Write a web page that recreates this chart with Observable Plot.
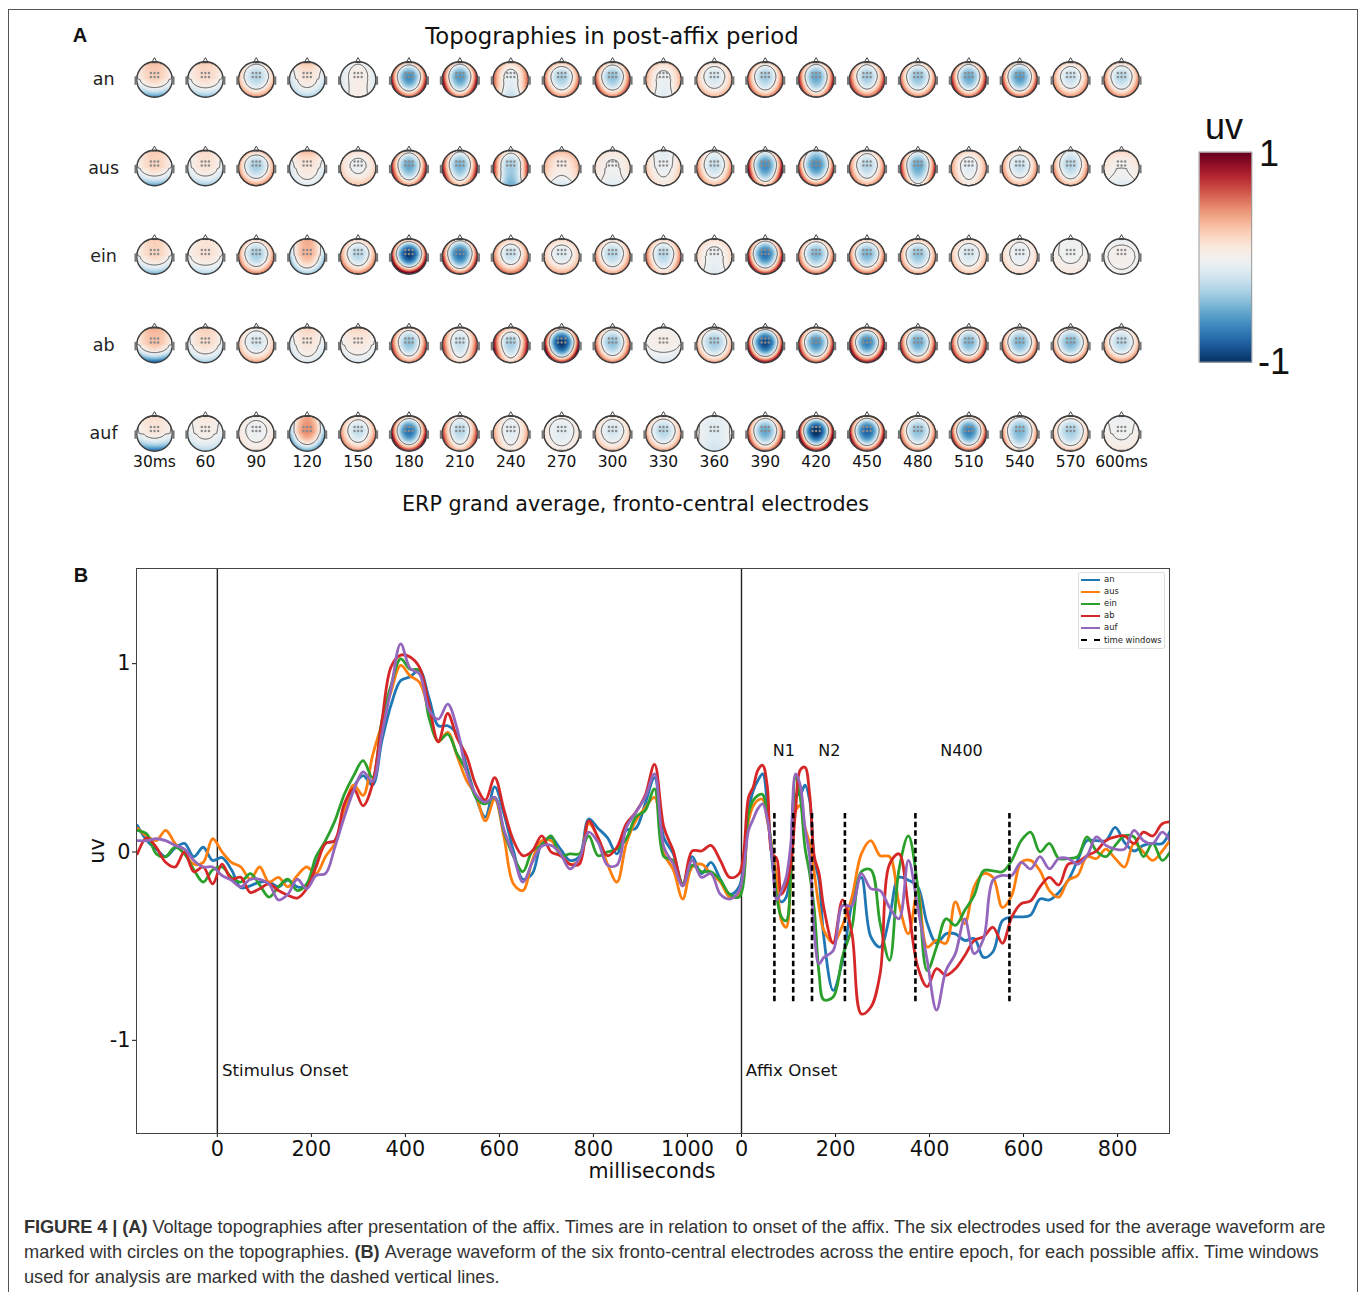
<!DOCTYPE html>
<html><head><meta charset="utf-8">
<script src="https://cdn.jsdelivr.net/npm/d3@7"></script>
<script src="https://cdn.jsdelivr.net/npm/@observablehq/plot@0.6"></script>
<style>
html,body{margin:0;padding:0;background:#fff}
#page{position:relative;width:1358px;height:1292px;overflow:hidden;font-family:"DejaVu Sans",sans-serif;color:#111}
#page svg{position:absolute;background:none}
.t{position:absolute;white-space:nowrap;line-height:1}
.c{transform:translate(-50%,-50%)}
#border{position:absolute;left:8px;top:9px;right:0;bottom:-5px;border:1px solid #555}
#legend{position:absolute;left:1078px;top:572px;width:85px;height:75px;border:1px solid #ddd;border-radius:2px;background:#fff;box-sizing:content-box}
.caption{position:absolute;left:24px;font-family:"Liberation Sans",Arial,sans-serif;font-size:18.2px;color:#333;white-space:nowrap;line-height:1}
</style></head>
<body><div id="page"><div id="border"></div></div>
<script>
// ---------- Panel B: grand-average waveforms (uV) ----------
const times = [...d3.range(-170,1111,20), ...d3.range(1130,1291,10), ...d3.range(1310,2031,20)];
const an = [.135,.055,.01,-.03,.015,.04,-.03,.02,-.05,-.035,-.10,-.195,-.185,-.165,-.165,-.19,-.155,-.19,-.185,-.07,.04,.055,.20,.34,.40,.35,.585,.78,.905,.925,.96,.815,.665,.665,.62,
.45,.285,.18,.34,.195,0,-.15,-.12,.04,.07,.01,-.05,-.03,.17,.12,.07,-.015,.11,.12,.25,.39,.07,-.015,-.175,-.03,-.12,-.06,-.15,-.23,-.19,
.215,.32,.375,.41,.25,-.05,-.23,-.27,-.245,-.07,.30,.30,.35,.27,-.05,-.155,-.455,
-.74,-.58,-.28,-.14,-.455,-.51,-.35,-.14,-.155,-.19,-.385,-.49,-.44,
-.44,-.475,-.465,-.565,-.535,-.37,-.35,-.35,-.34,-.255,-.26,-.22,-.155,-.05,.055,.055,.055,.125,.045,0,.03,.04,.04,.125];
const aus = [.12,.08,.055,.11,.04,-.015,-.07,-.06,.065,-.005,-.06,-.085,-.15,-.085,-.165,-.14,-.19,-.13,-.085,-.12,-.03,.04,.215,.35,.295,.505,.675,.85,.985,.93,.895,.745,.58,.63,.505,
.375,.295,.16,.275,.07,-.175,-.21,-.05,.055,.055,-.015,-.07,-.05,.145,.07,-.07,-.165,.04,.16,.23,.285,-.015,-.10,-.255,-.085,-.07,-.12,-.165,-.245,-.23,
.16,.24,.27,.275,.16,.02,-.14,-.37,-.405,-.155,.215,.24,.125,.04,-.12,-.30,-.42,
-.485,-.395,-.245,-.015,.055,-.025,-.03,-.28,-.44,-.21,-.51,-.475,-.49,
-.27,-.385,-.19,-.12,-.14,-.30,-.235,-.06,-.05,-.105,-.21,-.245,-.155,-.13,-.03,-.04,.01,-.04,-.085,.04,-.005,-.05,0,.07];
const ein = [.11,.09,-.015,-.03,.02,-.015,-.10,-.165,-.10,-.085,-.14,-.165,-.12,-.18,-.245,-.19,-.15,-.21,-.175,-.03,.055,.16,.30,.40,.48,.39,.69,.885,1.02,.965,.96,.71,.585,.62,.515,
.425,.285,.25,.285,.10,-.03,-.11,0,.03,.08,-.025,-.015,-.015,.08,-.025,-.005,.01,.065,.18,.215,.33,-.03,-.05,-.175,-.075,-.11,-.11,-.155,-.23,-.245,
.20,.27,.295,.30,.18,0,-.245,-.35,-.37,-.12,.39,.285,.02,-.12,-.315,-.65,-.79,
-.775,-.56,-.405,-.11,-.10,-.385,-.58,-.10,.08,-.19,-.635,-.51,-.36,
-.395,-.315,-.235,-.105,-.105,-.11,-.05,.055,.10,-.005,.04,-.04,-.04,-.03,.075,0,-.03,.03,.08,.075,-.03,.04,-.05,.01];
const ab = [-.015,.07,.02,-.06,-.085,-.005,-.11,-.085,-.175,-.07,-.15,-.14,-.22,-.20,-.175,-.21,-.235,-.25,-.20,-.085,.04,.055,.25,.33,.24,.355,.69,.98,1.04,1.03,.975,.78,.58,.73,.60,
.505,.35,.27,.39,.215,.055,-.025,0,.08,-.005,-.025,-.07,-.07,.16,.07,-.025,.02,.145,.205,.295,.46,.125,0,-.185,0,0,.03,-.05,-.14,-.12,
.285,.34,.43,.455,.34,-.015,-.04,-.23,-.185,-.07,.215,.43,.445,.30,-.03,-.12,-.30,
-.49,-.26,-.44,-.865,-.83,-.65,-.07,-.015,-.30,-.615,-.72,-.625,-.66,
-.625,-.555,-.475,-.455,-.405,-.49,-.35,-.28,-.265,-.19,-.14,-.18,-.07,-.06,-.025,0,.055,.075,.08,.04,.10,.08,.145,.155];
const auf = [.055,.055,.065,.055,.03,.01,-.05,-.085,-.085,-.13,-.155,-.19,-.15,-.15,-.175,-.26,-.23,-.15,-.20,-.13,-.12,.02,.18,.32,.42,.37,.62,.87,1.10,.97,.94,.75,.70,.78,.65,
.42,.30,.26,.285,.11,-.025,-.165,-.06,.025,.03,-.015,-.095,-.04,.10,.045,-.075,-.075,.125,.205,.285,.41,.02,-.07,-.185,-.05,-.14,-.12,-.23,-.255,-.21,
.11,.17,.225,.25,.17,-.025,-.26,-.21,-.14,.04,.41,.35,.125,-.03,-.44,-.60,-.565,
-.53,-.29,-.29,-.12,-.20,-.21,-.30,-.36,-.05,-.30,-.58,-.845,-.635,
-.545,-.36,-.545,-.465,-.155,-.13,-.13,-.06,-.095,-.03,-.095,-.04,-.04,-.07,-.025,.075,.03,.01,.01,.11,.055,.04,.10,.04];

const affixes = ["an","aus","ein","ab","auf"];
const lineColors = ["#1f77b4","#ff7f0e","#2ca02c","#d62728","#9467bd"];
const waves = [an,aus,ein,ab,auf];

const affixOnset = 1115;                 // epoch ms at which affix time 0 sits
const xTicks = [0,200,400,600,800,1000,1115,1315,1515,1715,1915];
const xTickLabels = ["0","200","400","600","800","1000","0","200","400","600","800"];
const yTicks = [1,0,-1];
const yTickLabels = ["1","0","-1"];
const windowEdges = [70,110,150,220,370,570];   // ms after affix onset
const windowLabels = [{t:90,s:"N1"},{t:187,s:"N2"},{t:468,s:"N400"}];

// ---------- Panel A: topographies, [centre, front rim, back rim, side rim] per latency ----------
const latencies = [30,60,90,120,150,180,210,240,270,300,330,360,390,420,450,480,510,540,570,600];
const topoAn  = [[.2,.25,-.5,-.05],[.15,.2,-.35,-.05],[-.25,.1,.4,.3],[.1,.25,-.25,-.2],[.05,-.02,.05,-.15],[-.55,.3,.55,.8],[-.5,.2,.45,.9],[-.08,.2,-.2,.6],[-.3,.3,.4,.55],[-.35,.2,.45,.65],[-.05,.2,-.1,.35],[-.15,.15,.3,.3],[-.3,.2,.4,.6],[-.45,.2,.35,.8],[-.3,.15,.5,.7],[-.35,.2,.45,.55],[-.45,.2,.5,.8],[-.5,.2,.5,.7],[-.2,.2,.4,.45],[-.25,.2,.4,.5]];
const topoAus = [[.18,.2,-.45,-.05],[.12,.15,-.3,-.1],[-.3,.3,.4,.4],[.1,.3,-.1,-.15],[-.05,.15,.25,.2],[-.45,.2,.4,.8],[-.4,.1,.3,.85],[-.3,.15,-.4,.8],[.05,.3,-.15,.3],[-.02,.1,-.1,.15],[-.05,-.1,.1,.25],[-.2,.05,.3,.5],[-.55,.1,.3,.95],[-.55,-.1,.5,.7],[-.25,.15,.35,.55],[-.45,.1,.1,.8],[-.1,.2,.1,.4],[-.2,.2,.3,.45],[-.25,0,.3,.5],[0,.2,-.1,.1]];
const topoEin = [[.18,.2,-.4,-.05],[.12,.1,-.25,-.03],[-.3,.2,.45,.45],[.3,.3,-.3,-.35],[-.25,.2,.45,.45],[-.85,.4,1,.85],[-.65,.2,.55,.8],[-.2,.25,.5,.5],[-.12,.2,.35,.25],[-.25,.15,.35,.45],[-.25,.2,.2,.55],[-.05,.15,-.1,.2],[-.65,.25,.65,.85],[-.4,.2,.5,.55],[-.4,.25,.5,.55],[-.35,.3,.35,.45],[-.15,.15,.25,.3],[-.08,.05,.15,.2],[-.03,-.02,.1,.05],[.03,-.05,-.02,-.02]];
const topoAb  = [[.25,.3,-.7,-.05],[.15,.2,-.3,-.1],[-.15,.1,.35,.25],[.1,.2,-.1,-.15],[.08,.2,-.12,-.05],[-.35,.2,.4,.7],[-.2,.1,.15,.7],[-.3,.3,.2,.9],[-.85,.3,.7,1],[-.35,.15,.45,.6],[.05,0,-.15,0],[-.3,.1,.35,.35],[-.8,.3,.8,.85],[-.55,.3,.55,.8],[-.6,.35,.75,.9],[-.45,.2,.5,.75],[-.4,.2,.55,.7],[-.4,.15,.5,.55],[-.4,.15,.5,.4],[-.25,.1,.45,.35]];
const topoAuf = [[.1,.15,-.65,-.05],[.05,.1,-.25,-.1],[-.05,.05,.1,.1],[.4,.3,-.45,-.45],[-.2,.15,.4,.45],[-.65,.3,.7,.9],[-.25,.1,.3,.7],[-.1,.05,.1,.4],[-.1,.05,.08,.12],[-.15,.1,.25,.25],[-.25,.15,.35,.35],[-.1,-.05,-.15,.05],[-.45,.2,.45,.7],[-.9,.4,.8,1],[-.7,.3,.6,.9],[-.35,.15,.4,.55],[-.6,.25,.55,.75],[-.4,.1,.15,.5],[-.3,.15,.25,.3],[-.02,-.05,.08,.05]];
const topos = [topoAn,topoAus,topoEin,topoAb,topoAuf];
const latencyLabel = d => d===30 ? "30ms" : d===600 ? "600ms" : String(d);
const colorbarTicks = [1,-1];

const page = document.getElementById("page");

// ----- topography field in data units (ms along x, row along y)
const headRx = 10.7, headRy = .2;
function field(x,y){
  const col = Math.round((x-30)/30), row = Math.round(y);
  if(col<0||col>19||row<0||row>4) return NaN;
  const u=(x-latencies[col])/headRx, v=(y-row)/headRy;
  const rr=u*u+v*v;
  if(rr>=1) return NaN;
  const [c,f,b,s]=topos[row][col];
  const vc=v+.12;                        // activity centre sits a little frontal
  const d=Math.min(1,u*u+vc*vc*(vc<0?1.25:.8));
  const a=u*u/(rr+.08);
  const rim=1.28*(s*a+(v<0?f:b)*(1-a));
  return 1.15*c*(1-d)+rim*d;
}
const heads = topos.flatMap((rowVals,row)=>latencies.map(t=>({t,row})));
const colourbarY = [.825,3.198];
const electrodes = [[-3.6,-6.6],[0,-6.6],[3.6,-6.6],[-3.6,-2.4],[0,-2.4],[3.6,-2.4]];

const topPlot = Plot.plot({
  width:1358,height:520,marginLeft:0,marginRight:0,marginTop:0,marginBottom:70,
  style:{fontFamily:"DejaVu Sans",background:"none",color:"#111"},
  x:{domain:[30,600],range:[154,1121],axis:null},
  y:{domain:[0,4],range:[79,433],axis:null},
  color:{type:"linear",scheme:"RdBu",reverse:true,domain:[-1,1]},
  marks:[
    Plot.raster({fill:field,x1:15,x2:615,y1:-.5,y2:4.5,pixelSize:1,clip:false}),
    Plot.contour({value:field,x1:15,x2:615,y1:-.5,y2:4.5,pixelSize:1,thresholds:[0],stroke:"#555",fill:"none",strokeWidth:1,clip:false}),
    ...electrodes.map(([dx,dy])=>Plot.dot(heads,{x:"t",y:"row",dx,dy,r:1.25,fill:"#8b8b8b",stroke:"none"})),
    Plot.dot(heads,{x:"t",y:"row",r:17.8,stroke:"#3d3d3d",strokeWidth:1.4,fill:"none"}),
    Plot.dot(heads,{x:"t",y:"row",dy:-18.6,symbol:"triangle",r:2.1,stroke:"#444",strokeWidth:1,fill:"none"}),
    Plot.ruleX(heads,{x:"t",y1:d=>d.row-.03,y2:d=>d.row+.065,dx:-18.9,stroke:"#777",strokeWidth:2.3}),
    Plot.ruleX(heads,{x:"t",y1:d=>d.row-.03,y2:d=>d.row+.065,dx:18.9,stroke:"#777",strokeWidth:2.3}),
    Plot.text(affixes,{x:0,y:(d,i)=>i,text:d=>d,fontSize:17.5,fill:"#222"}),
    Plot.axisX({ticks:latencies,tickFormat:latencyLabel,tickSize:0,tickPadding:5,fontSize:15.5,label:null,anchor:"bottom"}),
    // colour bar
    Plot.raster({fill:(x,y)=>1-2*(y-colourbarY[0])/(colourbarY[1]-colourbarY[0]),x1:646,x2:677,y1:colourbarY[0],y2:colourbarY[1],pixelSize:1,clip:false}),
    Plot.rect([0],{x1:646,x2:677,y1:colourbarY[0],y2:colourbarY[1],fill:"none",stroke:"#999",strokeWidth:1})
  ]
});
topPlot.style.left="0";topPlot.style.top="0";
page.appendChild(topPlot);

// ----- waveform panel
const waveMarks = waves.map((w,i)=>Plot.line(w.map((v,j)=>({t:times[j],v})),{x:"t",y:"v",stroke:lineColors[i],strokeWidth:2.8,curve:"catmull-rom",clip:true}));
const xMap = new Map(xTicks.map((t,i)=>[t,xTickLabels[i]]));
const yMap = new Map(yTicks.map((t,i)=>[t,yTickLabels[i]]));
const wavePlot = Plot.plot({
  width:1358,height:660,marginLeft:136,marginRight:189,marginTop:28,marginBottom:67,
  style:{fontFamily:"DejaVu Sans",background:"none",color:"#111"},
  x:{domain:[-172,2025.5],axis:null},
  y:{domain:[-1.5,1.5],axis:null},
  marks:[
    Plot.ruleX([0,affixOnset],{stroke:"#222",strokeWidth:1.4}),
    ...waveMarks,
    Plot.ruleX(windowEdges,{x:d=>d+affixOnset,y1:-.8,y2:.2,stroke:"#000",strokeWidth:2.6,strokeDasharray:"5.5,3.2"}),
    Plot.text(windowLabels,{x:d=>d.t+affixOnset,y:.53,text:"s",fontSize:16,fill:"#111"}),
    Plot.text(["Stimulus Onset"],{x:10,y:-1.167,text:d=>d,textAnchor:"start",fontSize:16.6,fill:"#111"}),
    Plot.text(["Affix Onset"],{x:affixOnset+9,y:-1.167,text:d=>d,textAnchor:"start",fontSize:16.6,fill:"#111"}),
    Plot.axisX({ticks:xTicks,tickFormat:d=>xMap.get(d),tickSize:4,tickPadding:4,fontSize:20.8,label:null,anchor:"bottom"}),
    Plot.axisY({ticks:yTicks,tickFormat:d=>yMap.get(d),tickSize:4,tickPadding:2,fontSize:20.8,label:null,anchor:"left",dy:1}),
    Plot.frame({stroke:"#444",strokeWidth:1})
  ]
});
wavePlot.style.left="0";wavePlot.style.top="540px";
page.appendChild(wavePlot);

// ----- text set around the plots
function txt(s,x,y,size,extra={}){
  const d=document.createElement("div");d.className="t c";d.textContent=s;
  Object.assign(d.style,{left:x+"px",top:y+"px",fontSize:size+"px"},extra);
  page.appendChild(d);return d;
}
txt("A",80,35,20,{fontFamily:"Liberation Sans",fontWeight:"bold"});
txt("B",81,575,20,{fontFamily:"Liberation Sans",fontWeight:"bold"});
txt("Topographies in post-affix period",612,36,22.8);
txt("ERP grand average, fronto-central electrodes",635.5,503.5,20.65);
txt("milliseconds",652,1171,20.6);
txt("uv",97,851,20.8,{transform:"translate(-50%,-50%) rotate(-90deg)"});
txt("uv",1224,127,36,{fontFamily:"Liberation Sans"});
txt(String(colorbarTicks[0]),1269,154,36,{fontFamily:"Liberation Sans"});
txt(String(colorbarTicks[1]),1274,362,36,{fontFamily:"Liberation Sans"});

// ----- legend
const lg=document.createElement("div");lg.id="legend";page.appendChild(lg);
const legendRows=[...affixes,"time windows"];
legendRows.forEach((name,i)=>{
  const top=6.5+i*12.1;
  const sw=document.createElement("div");
  const dashed=i===5;
  Object.assign(sw.style,{position:"absolute",left:"2px",top:top-1+"px",width:"19px",height:"0",borderTop:dashed?"2px dashed #000":"2px solid "+lineColors[i]});
  lg.appendChild(sw);
  const l=document.createElement("div");l.className="t";l.textContent=name;
  Object.assign(l.style,{left:"25px",top:top-4.5+"px",fontSize:"8.4px",color:"#222"});
  lg.appendChild(l);
});

// ----- caption
const caption=[
 [["b","FIGURE 4 | (A) "],["","Voltage topographies after presentation of the affix. Times are in relation to onset of the affix. The six electrodes used for the average waveform are"]],
 [["","marked with circles on the topographies. "],["b","(B) "],["","Average waveform of the six fronto-central electrodes across the entire epoch, for each possible affix. Time windows"]],
 [["","used for analysis are marked with the dashed vertical lines."]]
];
const captionSpacing=[-.066,-.005,-.01];
caption.forEach((parts,i)=>{
  const d=document.createElement("div");d.className="caption";d.style.top=(1218+i*25)+"px";
  d.style.letterSpacing=captionSpacing[i]+"px";
  parts.forEach(([k,s])=>{const e=document.createElement(k?"b":"span");e.textContent=s;d.appendChild(e);});
  page.appendChild(d);
});
</script></body></html>
